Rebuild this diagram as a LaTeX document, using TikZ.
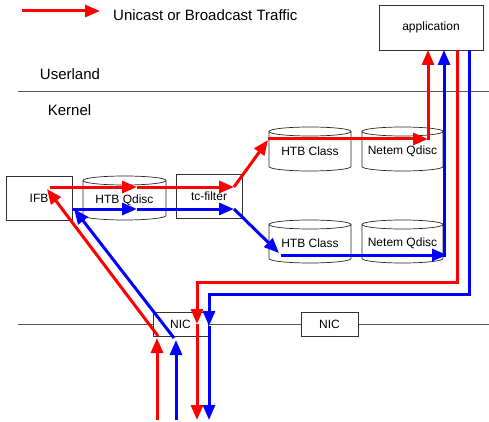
\documentclass[tikz,border=0pt]{standalone}
\usepackage{fontspec}
\setmainfont{Liberation Sans}
\usetikzlibrary{arrows.meta}
\newcommand\cylshape[5]{% x-left, x-right, y-top, y-bottom, ry
  \draw[cylline] ({(#1+#2)/2},{#3+#5}) ellipse [x radius={(#2-#1)/2}, y radius=#5];
  \draw[cylline] (#1,{#3+#5}) -- (#1,{#4-#5})
    .. controls (#1,{#4-#5+0.552*#5}) and ({(#1+#2)/2-0.552*(#2-#1)/2},#4) .. ({(#1+#2)/2},#4)
    .. controls ({(#1+#2)/2+0.552*(#2-#1)/2},#4) and (#2,{#4-#5+0.552*#5}) .. (#2,{#4-#5})
    -- (#2,{#3+#5});
}
\begin{document}
\begin{tikzpicture}[x=1pt,y=-1pt,
  box/.style={draw=black!80,fill=white,line width=0.8pt,inner sep=0pt,font=\fontsize{12}{14}\selectfont},
  lbl/.style={inner sep=0pt,font=\fontsize{12}{14}\selectfont},
  big/.style={inner sep=0pt,font=\fontsize{15}{18}\selectfont},
  rulel/.style={draw=black!65,line width=0.8pt},
  cylline/.style={draw=black!85,line width=0.7pt},
  flow/.style={line width=3pt,-{Triangle[length=15pt,width=12pt]}},
  rflow/.style={flow,draw=red},
  bflow/.style={flow,draw=blue}
]
\useasboundingbox (0,0) rectangle (489,422);

% horizontal rules
\coordinate (u0) at (18,91); \coordinate (u1) at (489,91);
\coordinate (k0) at (18,324); \coordinate (k1) at (489,324);
\draw[rulel] (u0) -- (u1);
\draw[rulel] (k0) -- (k1);

% labels
\node[big,anchor=west] (legtext) at (113,15) {Unicast or Broadcast Traffic};
\node[big] (userland) at (70,74) {Userland};
\node[big] (kernel) at (69.5,110.5) {Kernel};

% boxes
\node[box,minimum width=104pt,minimum height=45pt] (app) at (431,27.5) {application};
\node[box,minimum width=66pt,minimum height=44pt] (ifb) at (39,198) {IFB};
\node[box,minimum width=66pt,minimum height=44pt] (tcf) at (209,196) {tc-filter};
\node[box,minimum width=55pt,minimum height=24pt] (nic1) at (180.5,324) {NIC};
\node[box,minimum width=57pt,minimum height=24pt] (nic2) at (329.5,324) {NIC};

% cylinders
\cylshape{83}{166}{176}{220}{4.5}
\node[lbl] (htbq) at (124.5,200) {HTB Qdisc};
\cylshape{269}{351}{127}{171}{4.5}
\node[lbl] (htbc1) at (310,151) {HTB Class};
\cylshape{362}{443}{127}{171}{4.5}
\node[lbl] (net1) at (402.5,151) {Netem Qdisc};
\cylshape{269}{351}{220}{263}{4.5}
\node[lbl] (htbc2) at (310,243) {HTB Class};
\cylshape{362}{443}{220}{263}{4.5}
\node[lbl] (net2) at (402.5,243) {Netem Qdisc};

% legend arrow
\coordinate (lg0) at (22,11); \coordinate (lg1) at (100,11);
\draw[rflow] (lg0) -- (lg1);

% red incoming path
\coordinate (r0) at (157,420); \coordinate (r1) at (157,338);
\coordinate (r2) at (158,336); \coordinate (r3) at (47,189);
\coordinate (r4) at (50,187); \coordinate (r5) at (137,187); \coordinate (r6) at (234,187);
\coordinate (r7) at (268,140);
\coordinate (r8) at (268,139); \coordinate (r9) at (428,139);
\coordinate (r10) at (428,140.5); \coordinate (r11) at (428,50);
\draw[rflow] (r0) -- (r1);
\draw[rflow] (r2) -- (r3);
\draw[rflow] (r4) -- (r5);
\draw[rflow] (r5) -- (r6);
\draw[rflow] (r6) -- (r7);
\draw[rflow] (r8) -- (r9);
\draw[rflow] (r10) -- (r11);

% blue incoming path
\coordinate (b0) at (176,420); \coordinate (b1) at (176,340);
\coordinate (b2) at (174,338); \coordinate (b3) at (74,209);
\coordinate (b4) at (72,209); \coordinate (b5) at (137,209); \coordinate (b6) at (234,209);
\coordinate (b7) at (279,253);
\coordinate (b8) at (281,255); \coordinate (b9) at (447,255);
\coordinate (b10) at (444,256.5); \coordinate (b11) at (444,50);
\draw[bflow] (b0) -- (b1);
\draw[bflow] (b2) -- (b3);
\draw[bflow] (b4) -- (b5);
\draw[bflow] (b5) -- (b6);
\draw[bflow] (b6) -- (b7);
\draw[bflow] (b8) -- (b9);
\draw[bflow] (b10) -- (b11);

% red outgoing
\coordinate (ro0) at (457,50); \coordinate (ro1) at (457,282);
\coordinate (ro2) at (197,282); \coordinate (ro3) at (197,324); \coordinate (ro4) at (197,420);
\draw[rflow] (ro0) -- (ro1) -- (ro2) -- (ro3);
\draw[rflow] (ro3) -- (ro4);

% blue outgoing
\coordinate (bo0) at (469,50); \coordinate (bo1) at (469,294);
\coordinate (bo2) at (209,294); \coordinate (bo3) at (209,326); \coordinate (bo4) at (209,420);
\draw[bflow] (bo0) -- (bo1) -- (bo2) -- (bo3);
\draw[bflow] (bo3) -- (bo4);
\end{tikzpicture}
\end{document}
